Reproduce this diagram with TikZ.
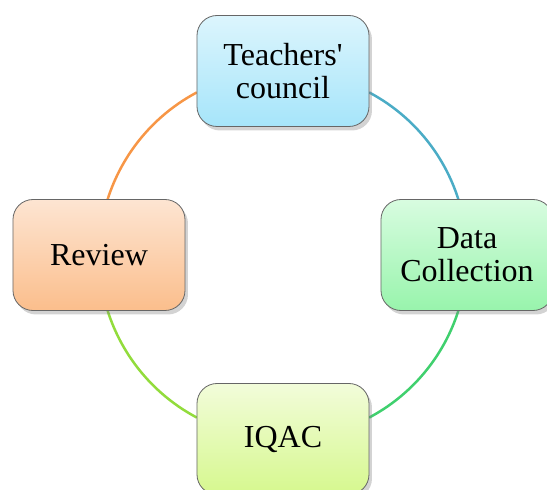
\documentclass[tikz,border=0pt]{standalone}
\usepackage{fontspec}
\setmainfont{Liberation Serif}
\usetikzlibrary{shadows}

\definecolor{teachtop}{RGB}{220,245,253}
\definecolor{teachbot}{RGB}{166,229,250}
\definecolor{datatop}{RGB}{216,252,224}
\definecolor{databot}{RGB}{152,244,172}
\definecolor{iqactop}{RGB}{242,252,218}
\definecolor{iqacbot}{RGB}{214,248,142}
\definecolor{revtop}{RGB}{253,229,210}
\definecolor{revbot}{RGB}{251,190,140}
\definecolor{teachline}{RGB}{75,172,198}
\definecolor{dataline}{RGB}{64,208,110}
\definecolor{iqacline}{RGB}{146,220,60}
\definecolor{revline}{RGB}{247,150,70}

\tikzset{
  stage/.style={draw=black!60, line width=0.8pt, rounded corners=20pt,
    minimum width=172pt, minimum height=111pt, align=center,
    font=\fontsize{32}{33}\selectfont,
    drop shadow={shadow xshift=3pt, shadow yshift=-4pt, opacity=0.35}},
  cycarc/.style={line width=2.5pt}
}

\begin{document}
\begin{tikzpicture}[x=1pt,y=1pt]
\newcommand\cycrad{184}
\useasboundingbox (-283,-235) rectangle (264,255);
\coordinate (hub) at (0,0);

% cycle arcs (clockwise, leaving each box where the circle crosses its edge)
\draw[cycarc, teachline] (hub) ++(62.1:\cycrad) arc[start angle=62.1, end angle=17.6, radius=\cycrad];
\draw[cycarc, dataline] (hub) ++(-17.6:\cycrad) arc[start angle=-17.6, end angle=-62.1, radius=\cycrad];
\draw[cycarc, iqacline] (hub) ++(-117.9:\cycrad) arc[start angle=-117.9, end angle=-162.4, radius=\cycrad];
\draw[cycarc, revline] (hub) ++(162.4:\cycrad) arc[start angle=162.4, end angle=117.9, radius=\cycrad];

% stages
\node[stage, top color=teachtop, bottom color=teachbot] (teach) at (0,\cycrad) {Teachers\textquotesingle\\council};
\node[stage, top color=datatop, bottom color=databot] (data) at (\cycrad,0) {Data\\Collection};
\node[stage, top color=iqactop, bottom color=iqacbot] (iqac) at (0,-\cycrad) {IQAC};
\node[stage, top color=revtop, bottom color=revbot] (review) at (-\cycrad,0) {Review};
\end{tikzpicture}
\end{document}
